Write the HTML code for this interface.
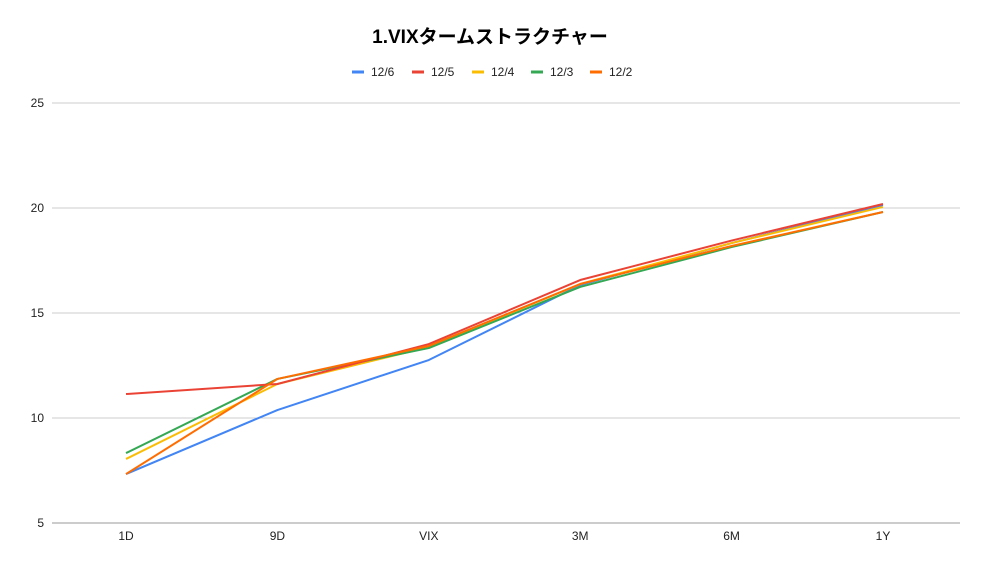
<!DOCTYPE html>
<html><head><meta charset="utf-8">
<style>
body{margin:0;background:#fff;font-family:"Liberation Sans","Noto Sans CJK JP",sans-serif;}
</style></head>
<body>
<svg id="chart" width="981" height="565" xmlns="http://www.w3.org/2000/svg" style="display:block">
<text x="490" y="43" text-anchor="middle" font-size="19" font-weight="bold" fill="#000" font-family="Liberation Sans, Noto Sans CJK JP, sans-serif">1.VIXタームストラクチャー</text>
<g id="legend"></g>
<g id="grid"></g>
<g id="series"></g>
<g id="xaxis"></g>
</svg>
<script>
const categories=["1D","9D","VIX","3M","6M","1Y"];
const seriesNames=["12/6","12/5","12/4","12/3","12/2"];
const s126=[7.33,10.38,12.76,16.33,18.33,20.14];
const s125=[11.14,11.62,13.52,16.57,18.45,20.19];
const s124=[8.05,11.62,13.38,16.38,18.33,20.05];
const s123=[8.33,11.86,13.33,16.24,18.14,19.81];
const s122=[7.33,11.86,13.43,16.38,18.19,19.81];
const yTicks=[5,10,15,20,25];
const colors=["#4285f4","#ea4335","#fbbc04","#34a853","#ff6d01"];
const allSeries=[s126,s125,s124,s123,s122];
const drawOrder=[0,2,3,1,4];
const NS="http://www.w3.org/2000/svg";
const yS=v=>523-(v-5)*21;
const xS=i=>126+i*151.4;
function mk(t,a,p){const e=document.createElementNS(NS,t);for(const k in a)e.setAttribute(k,a[k]);p.appendChild(e);return e;}
const grid=document.getElementById('grid');
yTicks.forEach(v=>{
  const l=mk('line',{x1:52,x2:960,y1:yS(v),y2:yS(v),stroke:v===5?'#999':'#ccc','stroke-width':1},grid);
  
  
  const t=mk('text',{x:44,y:yS(v)+4,'text-anchor':'end','font-size':12,fill:'#222'},grid);
  t.textContent=v;
  
  
});
const xa=document.getElementById('xaxis');
categories.forEach((c,i)=>{
  const t=mk('text',{x:xS(i),y:540,'text-anchor':'middle','font-size':12,fill:'#222'},xa);
  t.textContent=c;
  
  
});
const sg=document.getElementById('series');
drawOrder.forEach(i=>{
  const s=allSeries[i];
  const p=mk('polyline',{points:s.map((v,j)=>xS(j)+','+yS(v)).join(' '),fill:'none',stroke:colors[i],'stroke-width':2,'stroke-linejoin':'round'},sg);
  
  
});
const lg=document.getElementById('legend');
const lx=[352,412,472,531,590];
seriesNames.forEach((n,i)=>{
  const g=mk('g',{},lg);
  
  
  mk('line',{x1:lx[i],x2:lx[i]+12,y1:72,y2:72,stroke:colors[i],'stroke-width':3},g);
  const t=mk('text',{x:lx[i]+19,y:76,'font-size':12,fill:'#222'},g);
  t.textContent=n;
});
</script>
</body></html>
